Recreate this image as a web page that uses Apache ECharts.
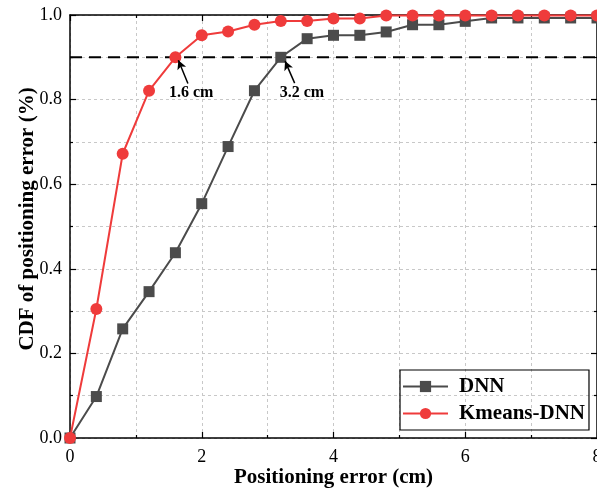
<!DOCTYPE html>
<html><head><meta charset="utf-8">
<script src="https://cdn.jsdelivr.net/npm/echarts@6/dist/echarts.min.js"></script>
<style>html,body{margin:0;padding:0;background:#fff}#c{width:597px;height:493px}</style>
</head><body><div id="c"></div>
<script>
const xValues = [0,0.4,0.8,1.2,1.6,2.0,2.4,2.8,3.2,3.6,4.0,4.4,4.8,5.2,5.6,6.0,6.4,6.8,7.2,7.6,8.0];
const dnn = [0,0.098,0.258,0.346,0.438,0.554,0.689,0.821,0.9,0.944,0.952,0.952,0.96,0.977,0.977,0.985,0.993,0.993,0.993,0.993,0.993];
const kmeansDnn = [0,0.305,0.672,0.821,0.9,0.952,0.961,0.977,0.986,0.986,0.992,0.992,0.999,0.999,0.999,0.999,0.999,0.999,0.999,0.999,0.999];
const seriesNames = ['DNN','Kmeans-DNN'];
const threshold = 0.9;
const annotations = [
  {text:'1.6 cm', label:[1.84,0.816], tail:[1.79,0.838], head:[1.645,0.893]},
  {text:'3.2 cm', label:[3.52,0.816], tail:[3.41,0.839], head:[3.265,0.891]}
];
const FONT = '"Liberation Serif","Times New Roman",serif';
const chart = echarts.init(document.getElementById('c'));
const pairs = arr => xValues.map((x,i)=>[x,arr[i]]);
const gridLine = {show:true,lineStyle:{color:'#c8c8c8',type:[3,3],width:1}};
chart.setOption({
  animation:false,
  grid:{left:70,right:0,top:15,bottom:55,outerBoundsMode:'none',containLabel:false},
  legend:{
    orient:'vertical',left:400,top:370,
    borderColor:'#000',borderWidth:1.2,padding:[6,4,6,2],itemGap:6,
    itemWidth:45,itemHeight:14,
    textStyle:{fontFamily:FONT,fontWeight:'bold',fontSize:21,color:'#000',padding:[0,0,0,6]},
    data:seriesNames
  },
  xAxis:[{
    type:'value',min:0,max:8,interval:2,
    name:'Positioning error (cm)',nameLocation:'middle',nameGap:29,nameMoveOverlap:false,
    nameTextStyle:{fontFamily:FONT,fontWeight:'bold',fontSize:21,color:'#000'},
    axisLine:{show:true,onZero:false,lineStyle:{color:'#000',width:1.5}},
    axisTick:{show:true,inside:true,length:6,lineStyle:{color:'#000',width:1.2}},
    minorTick:{show:true,splitNumber:2,length:3,lineStyle:{color:'#000',width:1.2}},
    splitLine:gridLine,minorSplitLine:gridLine,
    axisLabel:{fontFamily:FONT,fontSize:18,color:'#000',margin:10}
  },{
    type:'value',min:0,max:8,interval:2,position:'top',
    axisLine:{show:true,onZero:false,lineStyle:{color:'#000',width:1.5}},
    axisTick:{show:true,inside:true,length:6,lineStyle:{color:'#000',width:1.2}},
    minorTick:{show:true,splitNumber:2,length:3,lineStyle:{color:'#000',width:1.2}},
    axisLabel:{show:false},splitLine:{show:false}
  }],
  yAxis:[{
    type:'value',min:0,max:1,interval:0.2,
    name:'CDF of positioning error (%)',nameLocation:'middle',nameGap:32,nameMoveOverlap:false,
    nameTextStyle:{fontFamily:FONT,fontWeight:'bold',fontSize:21,color:'#000',padding:[0,0,0,15]},
    axisLine:{show:true,onZero:false,lineStyle:{color:'#000',width:1.5}},
    axisTick:{show:true,inside:true,length:6,lineStyle:{color:'#000',width:1.2}},
    minorTick:{show:true,splitNumber:2,length:3,lineStyle:{color:'#000',width:1.2}},
    splitLine:gridLine,minorSplitLine:gridLine,
    axisLabel:{fontFamily:FONT,fontSize:18,color:'#000',margin:8,formatter:v=>v.toFixed(1)}
  },{
    type:'value',min:0,max:1,interval:0.2,position:'right',
    axisLine:{show:true,onZero:false,lineStyle:{color:'#000',width:1.5}},
    axisTick:{show:true,inside:true,length:6,lineStyle:{color:'#000',width:1.2}},
    minorTick:{show:true,splitNumber:2,length:3,lineStyle:{color:'#000',width:1.2}},
    axisLabel:{show:false},splitLine:{show:false}
  }],
  series:[
    {
      name:'threshold',type:'line',data:[[0,threshold],[8,threshold]],symbol:'none',silent:true,
      lineStyle:{color:'#000',width:2,type:[12,7]},z:1
    },
    {
      name:seriesNames[0],type:'line',data:pairs(dnn),symbol:'rect',symbolSize:11,
      itemStyle:{color:'#4b4b4b'},lineStyle:{color:'#4b4b4b',width:2},z:3
    },
    {
      name:seriesNames[1],type:'line',data:pairs(kmeansDnn),symbol:'circle',symbolSize:12,
      itemStyle:{color:'#ef3b3b'},lineStyle:{color:'#ef3b3b',width:2},z:4
    },
    {
      name:'annot',type:'scatter',data:[],silent:true,z:6,
      markLine:{
        silent:true,symbol:['none','arrow'],symbolSize:[7,9],
        lineStyle:{color:'#000',width:1.5,type:'solid'},label:{show:false},
        data:annotations.map(a=>[{coord:a.tail},{coord:a.head}])
      },
      markPoint:{
        silent:true,symbol:'rect',symbolSize:1,itemStyle:{color:'rgba(0,0,0,0)'},
        label:{show:true,position:'inside',fontFamily:FONT,fontWeight:'bold',fontSize:16,color:'#000',formatter:p=>p.name},
        data:annotations.map(a=>({name:a.text,coord:a.label}))
      }
    }
  ]
});
</script></body></html>
